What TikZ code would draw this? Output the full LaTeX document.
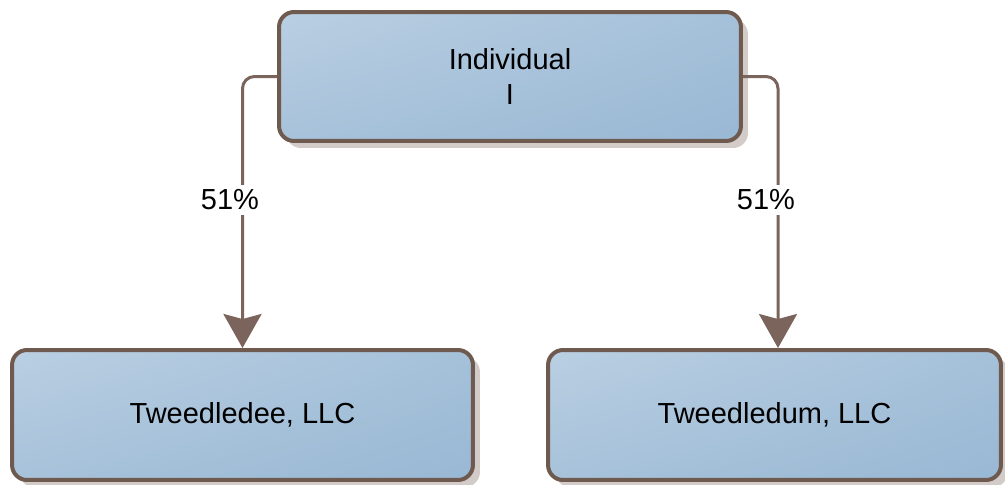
\documentclass[tikz,border=0pt]{standalone}
\usepackage{fontspec}
\setmainfont{Liberation Sans}
\usetikzlibrary{arrows.meta,shadows,shadings}
\definecolor{edgebrown}{HTML}{6F5A50}
\definecolor{linkbrown}{HTML}{7A645B}
\definecolor{boxTL}{HTML}{BACFE2}
\definecolor{boxTR}{HTML}{A5C1DA}
\definecolor{boxBL}{HTML}{A7C2DA}
\definecolor{boxBR}{HTML}{99B8D4}
\definecolor{shadowgray}{HTML}{D3CBC7}
\tikzset{
  entity/.style={draw=edgebrown, line width=0.08cm, rounded corners=0.3cm,
    upper left=boxTL, upper right=boxTR, lower left=boxBL, lower right=boxBR,
    drop shadow={shadow xshift=0.14cm, shadow yshift=-0.14cm, fill=shadowgray, opacity=1},
    font=\fontsize{16.5}{19.8}\selectfont, align=center, inner sep=0pt},
  link/.style={draw=linkbrown, line width=0.06cm, rounded corners=0.24cm,
    -{Stealth[width=0.76cm,length=0.68cm,inset=0.1cm]}},
  pct/.style={fill=white, font=\fontsize{16.5}{19.8}\selectfont, inner xsep=0.04cm, inner ysep=0.1cm}
}
\begin{document}
\begin{tikzpicture}[x=0.02cm,y=-0.02cm]
\useasboundingbox (0,0) rectangle (1005,484);
% owner and the two companies
\node[entity, minimum width=9.24cm, minimum height=2.58cm] (top) at (510,76.5) {Individual\\I};
\node[entity, minimum width=9.22cm, minimum height=2.6cm] (dee) at (242.5,415) {Tweedledee, LLC};
\node[entity, minimum width=9.06cm, minimum height=2.6cm] (dum) at (774.5,415) {Tweedledum, LLC};
% ownership links
\draw[link] (top.west) -| (dee.north);
\draw[link] (top.east) -| ([xshift=0.07cm]dum.north);
% ownership shares
\node[pct] (p1) at (230,200) {51\%};
\node[pct] (p2) at (766,200) {51\%};
\end{tikzpicture}
\end{document}
